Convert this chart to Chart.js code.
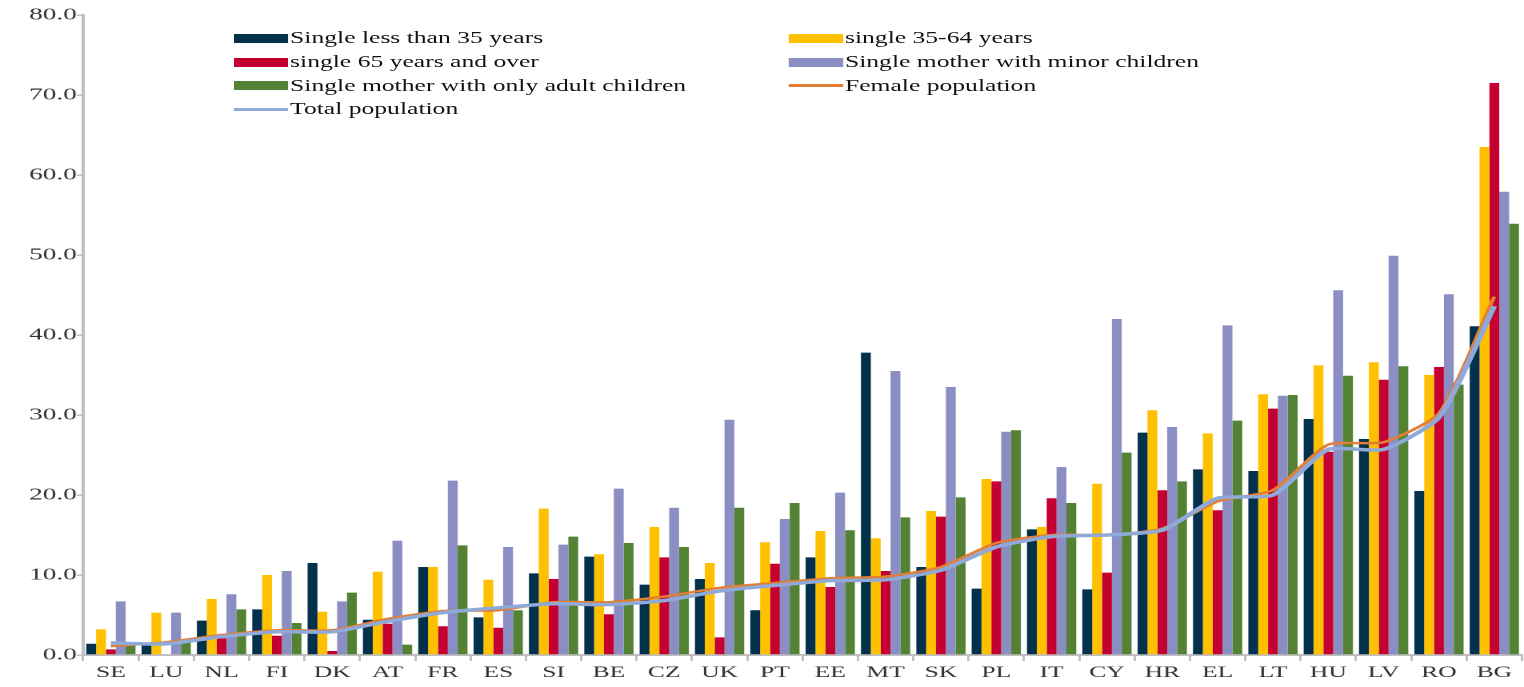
<!DOCTYPE html>
<html>
<head>
<meta charset="utf-8">
<script src="https://cdn.jsdelivr.net/npm/chart.js@4/dist/chart.umd.min.js"></script>
<style>
  html, body { margin: 0; padding: 0; background: #fff; overflow: hidden; }
  #wrap { position: absolute; left: 0; top: 0; width: 953px; height: 687px; transform: scaleX(1.6); transform-origin: 0 0; }
  #wrap canvas { position: absolute; left: 0; top: 0; }
  .lg { position: absolute; font-family: "Liberation Serif", "Times New Roman", serif; font-size: 16px; color: #111; white-space: nowrap; height: 20px; line-height: 20px; }
  .sw { position: absolute; }
</style>
</head>
<body>
<div id="wrap">
  <canvas id="c"></canvas>
  <div id="legend"></div>
</div>
<script>
const categories = ["SE","LU","NL","FI","DK","AT","FR","ES","SI","BE","CZ","UK","PT","EE","MT","SK","PL","IT","CY","HR","EL","LT","HU","LV","RO","BG"];
const singleUnder35 = [1.4,1.2,4.3,5.7,11.5,4.4,11.0,4.7,10.2,12.3,8.8,9.5,5.6,12.2,37.8,11.0,8.3,15.7,8.2,27.8,23.2,23.0,29.5,27.0,20.5,41.1];
const single35to64 = [3.2,5.3,7.0,10.0,5.4,10.4,11.0,9.4,18.3,12.6,16.0,11.5,14.1,15.5,14.6,18.0,22.0,16.0,21.4,30.6,27.7,32.6,36.2,36.6,35.0,63.5];
const single65plus = [0.7,null,2.1,2.4,0.5,3.9,3.6,3.4,9.5,5.1,12.2,2.2,11.4,8.5,10.5,17.3,21.7,19.6,10.3,20.6,18.1,30.8,25.4,34.4,36.0,71.5];
const motherMinor = [6.7,5.3,7.6,10.5,6.7,14.3,21.8,13.5,13.8,20.8,18.4,29.4,17.0,20.3,35.5,33.5,27.9,23.5,42.0,28.5,41.2,32.4,45.6,49.9,45.1,57.9];
const motherAdult = [1.2,1.7,5.7,4.0,7.8,1.3,13.7,5.6,14.8,14.0,13.5,18.4,19.0,15.6,17.2,19.7,28.1,19.0,25.3,21.7,29.3,32.5,34.9,36.1,33.8,53.9];
const femalePop = [1.1,1.6,2.5,3.1,3.1,4.5,5.5,5.6,6.6,6.6,7.3,8.4,9.0,9.6,9.8,11.0,14.0,15.0,15.0,15.8,19.2,20.6,26.3,26.6,30.2,44.8];
const totalPop = [1.5,1.4,2.3,2.9,2.9,4.2,5.3,5.9,6.4,6.3,6.8,8.0,8.7,9.3,9.4,10.6,13.5,14.8,15.0,15.6,19.6,20.0,25.7,25.7,29.7,43.6];
const yTicks = [0,10,20,30,40,50,60,70,80];

const seriesNames = ["Single less than 35 years","single 35-64 years","single 65 years and over","Single mother with minor children","Single mother with only adult children","Female population","Total population"];
const colors = ["#03314B","#FFC000","#C3002F","#8A8EC3","#538234","#E27F36","#8FAAD8"];

const FONT = '"Liberation Serif", "Times New Roman", serif';
const barSeries = [singleUnder35, single35to64, single65plus, motherMinor, motherAdult];

const datasets = barSeries.map((d, i) => ({
  type: 'bar',
  label: seriesNames[i],
  data: d,
  backgroundColor: colors[i],
  borderWidth: 0,
  barPercentage: 1.0,
  categoryPercentage: 0.89,
  order: 3
}));
datasets.push({
  type: 'line', label: seriesNames[5], data: femalePop,
  borderColor: colors[5], borderWidth: 2.5, pointRadius: 0, tension: 0.2, fill: false, order: 2
});
datasets.push({
  type: 'line', label: seriesNames[6], data: totalPop,
  borderColor: colors[6], borderWidth: 3.5, pointRadius: 0, tension: 0.2, fill: false, order: 1
});

new Chart(document.getElementById('c'), {
  type: 'bar',
  data: { labels: categories, datasets },
  options: {
    responsive: true,
    maintainAspectRatio: false,
    devicePixelRatio: 2,
    animation: false,
    layout: { padding: { top: 15, right: 0, bottom: 0, left: 0 } },
    plugins: { legend: { display: false }, tooltip: { enabled: false } },
    scales: {
      x: {
        type: 'category',
        offset: true,
        grid: { display: true, drawOnChartArea: false, offset: true, tickLength: 6, color: '#BFBFBF', lineWidth: 1.5 },
        border: { display: true, color: '#BFBFBF', width: 2 },
        ticks: { font: { family: FONT, size: 16 }, color: '#333', maxRotation: 0, autoSkip: false, padding: 2 },
        afterFit: (axis) => { axis.height = 32; }
      },
      y: {
        min: 0, max: 80,
        afterBuildTicks: (axis) => { axis.ticks = yTicks.map(v => ({ value: v })); },
        grid: { display: true, drawOnChartArea: false, tickLength: 4, color: '#BFBFBF', lineWidth: 1.5 },
        border: { display: true, color: '#BFBFBF', width: 2 },
        ticks: { font: { family: FONT, size: 17 }, color: '#333', padding: 0, callback: (v) => Number(v).toFixed(1) },
        afterFit: (axis) => { axis.width = 52; }
      }
    }
  }
});

// Legend (two columns)
const legendItems = [
  { i: 0, col: 0, row: 0, kind: 'bar' },
  { i: 1, col: 1, row: 0, kind: 'bar' },
  { i: 2, col: 0, row: 1, kind: 'bar' },
  { i: 3, col: 1, row: 1, kind: 'bar' },
  { i: 4, col: 0, row: 2, kind: 'bar' },
  { i: 5, col: 1, row: 2, kind: 'line' },
  { i: 6, col: 0, row: 3, kind: 'line' }
];
const colSwatchX = [145.6, 492.5];
const colTextX = [181.3, 528.1];
const rowY = [38, 62, 85.5, 109];
const lg = document.getElementById('legend');
legendItems.forEach(it => {
  const sw = document.createElement('div');
  sw.className = 'sw';
  const h = it.kind === 'bar' ? 9 : 3;
  sw.style.left = colSwatchX[it.col] + 'px';
  sw.style.width = '34.4px';
  sw.style.top = (rowY[it.row] - h / 2) + 'px';
  sw.style.height = h + 'px';
  sw.style.background = colors[it.i];
  lg.appendChild(sw);
  const t = document.createElement('div');
  t.className = 'lg';
  t.style.left = colTextX[it.col] + 'px';
  t.style.top = (rowY[it.row] - 10) + 'px';
  t.textContent = seriesNames[it.i];
  lg.appendChild(t);
});
</script>
</body>
</html>
